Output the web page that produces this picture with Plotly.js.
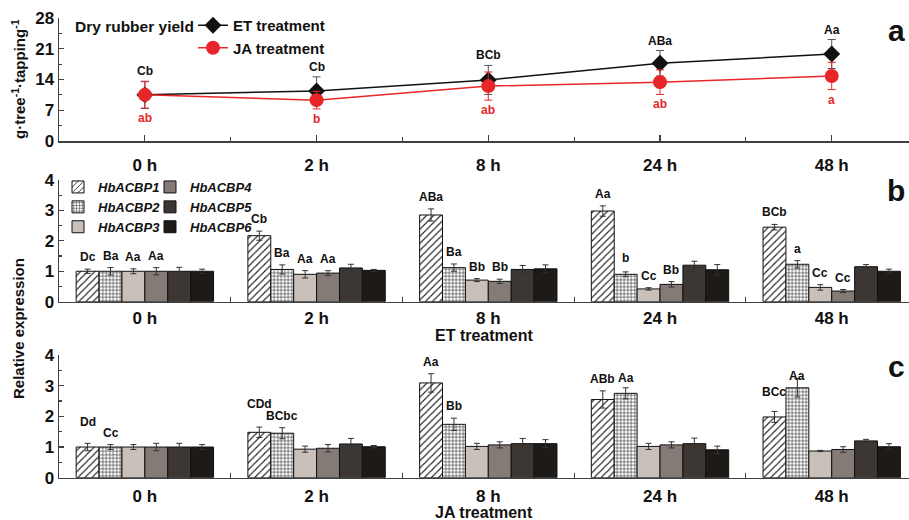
<!DOCTYPE html>
<html><head><meta charset="utf-8">
<script src="https://cdn.plot.ly/plotly-3.0.1.min.js"></script>
<style>html,body{margin:0;padding:0;background:#fff}#chart{width:909px;height:520px}</style>
</head><body><div id="chart"></div>
<script>
// ---------- data ----------
const timeLabels = ['0 h', '2 h', '8 h', '24 h', '48 h'];
const timeIdx = [0, 1, 2, 3, 4];

// Panel a: dry rubber yield (g·tree-1·tapping-1)
const etYield = [10.5, 11.4, 13.9, 17.7, 19.8];
const etYieldErr = [3.1, 3.2, 3.3, 2.9, 3.3];
const etYieldLabels = ['Cb', 'Cb', 'BCb', 'ABa', 'Aa'];
const jaYield = [10.5, 9.3, 12.5, 13.4, 14.8];
const jaYieldErr = [3.0, 2.0, 3.2, 2.8, 3.1];
const jaYieldLabels = ['ab', 'b', 'ab', 'ab', 'a'];

// Panels b/c: relative expression per gene (rows) across times (columns)
const genes = ['HbACBP1', 'HbACBP2', 'HbACBP3', 'HbACBP4', 'HbACBP5', 'HbACBP6'];
const etExpr = [
  [1.0, 2.17, 2.85, 2.98, 2.45],
  [1.0, 1.06, 1.12, 0.90, 1.23],
  [1.0, 0.90, 0.71, 0.42, 0.47],
  [1.0, 0.94, 0.67, 0.57, 0.35],
  [1.0, 1.11, 1.06, 1.20, 1.15],
  [1.0, 1.03, 1.08, 1.05, 1.00]
];
const etErr = [
  [0.07, 0.15, 0.20, 0.17, 0.09],
  [0.12, 0.15, 0.12, 0.08, 0.12],
  [0.08, 0.12, 0.05, 0.04, 0.09],
  [0.12, 0.08, 0.07, 0.09, 0.05],
  [0.13, 0.12, 0.13, 0.13, 0.07],
  [0.07, 0.03, 0.13, 0.17, 0.07]
];
const etLabels = [
  ['Dc', 'Cb', 'ABa', 'Aa', 'BCb'],
  ['Ba', 'Ba', 'Ba', 'b', 'a'],
  ['Aa', 'Aa', 'Bb', 'Cc', 'Cc'],
  ['Aa', 'Aa', 'Bb', 'Bb', 'Cc'],
  ['', '', '', '', ''],
  ['', '', '', '', '']
];
const jaExpr = [
  [1.0, 1.48, 3.09, 2.55, 1.98],
  [1.0, 1.45, 1.74, 2.75, 2.93],
  [1.0, 0.93, 1.02, 1.02, 0.87],
  [1.0, 0.96, 1.07, 1.07, 0.92],
  [1.0, 1.10, 1.11, 1.11, 1.20],
  [1.0, 1.01, 1.11, 0.91, 1.01]
];
const jaErr = [
  [0.12, 0.17, 0.30, 0.28, 0.18],
  [0.08, 0.18, 0.20, 0.18, 0.30],
  [0.08, 0.10, 0.10, 0.10, 0.02],
  [0.12, 0.12, 0.10, 0.10, 0.09],
  [0.12, 0.18, 0.17, 0.18, 0.05],
  [0.08, 0.04, 0.13, 0.12, 0.10]
];
const jaLabels = [
  ['Dd', 'CDd', 'Aa', 'ABb', 'BCc'],
  ['Cc', 'BCbc', 'Bb', 'Aa', 'Aa'],
  ['', '', '', '', ''],
  ['', '', '', '', ''],
  ['', '', '', '', ''],
  ['', '', '', '', '']
];

// ---------- styling ----------
const FONT = 'Arial, "Liberation Sans", sans-serif';
const RED = '#e8262a';
const AXC = '#404040';
const geneStyles = [
  {color: 'white', pattern: {shape: '/', fgcolor: '#222', bgcolor: 'white', size: 5, solidity: 0.22}},
  {color: 'white', pattern: {shape: '+', fgcolor: '#222', bgcolor: 'white', size: 3.5, solidity: 0.3}},
  {color: '#c9c0ba'},
  {color: '#857b76'},
  {color: '#3d3734'},
  {color: '#1d1a18'}
];
// extra vertical nudges (px) for a few significance letters, keyed panel-gene-time
const labelNudge = {'c-0-0': 9, 'c-0-1': 11, 'c-0-4': 7, 'c-1-4': -9, 'c-1-3': -2, 'b-1-3': 2};

const traces = [];
traces.push({
  type: 'scatter', mode: 'lines+markers', name: 'ET treatment',
  x: timeIdx, y: etYield, xaxis: 'x', yaxis: 'y', legend: 'legend',
  line: {color: '#111', width: 1.5},
  marker: {symbol: 'diamond', size: 13, color: '#111'},
  error_y: {type: 'data', array: etYieldErr, color: '#555', thickness: 1, width: 4}
});
traces.push({
  type: 'scatter', mode: 'lines+markers', name: 'JA treatment',
  x: timeIdx, y: jaYield, xaxis: 'x', yaxis: 'y', legend: 'legend',
  line: {color: RED, width: 1.5},
  marker: {symbol: 'circle', size: 14, color: RED},
  error_y: {type: 'data', array: jaYieldErr, color: RED, thickness: 1, width: 4}
});

function addBars(expr, err, xa, ya, showLegend) {
  genes.forEach((g, i) => {
    const m = Object.assign({line: {color: '#111', width: 1}}, geneStyles[i]);
    traces.push({
      type: 'bar', name: g, x: timeIdx, y: expr[i], xaxis: xa, yaxis: ya,
      marker: m, showlegend: showLegend, legend: i < 3 ? 'legend2' : 'legend3',
      legendgroup: g,
      error_y: {type: 'data', array: err[i], color: '#333', thickness: 1, width: 3}
    });
  });
}
addBars(etExpr, etErr, 'x2', 'y2', true);
addBars(jaExpr, jaErr, 'x3', 'y3', false);

// ---------- annotations ----------
const ann = [];
const lblFont = {family: FONT, size: 12, weight: 'bold', color: '#111'};
timeIdx.forEach((t, j) => {
  ann.push({xref: 'x', yref: 'y', x: t, y: etYield[j] + etYieldErr[j], text: etYieldLabels[j],
    showarrow: false, yanchor: 'bottom', yshift: 1, font: lblFont});
  ann.push({xref: 'x', yref: 'y', x: t, y: jaYield[j] - jaYieldErr[j], text: jaYieldLabels[j],
    showarrow: false, yanchor: 'top', yshift: -1, font: Object.assign({}, lblFont, {color: RED})});
});
const groupW = 0.8, nG = genes.length;
function addBarLabels(expr, err, labels, xr, yr, key) {
  genes.forEach((g, i) => {
    const off = -groupW / 2 + groupW / nG * (i + 0.5);
    timeIdx.forEach((t, j) => {
      if (!labels[i][j]) return;
      const nudge = labelNudge[key + '-' + i + '-' + j] || 0;
      ann.push({xref: xr, yref: yr, x: t + off, y: expr[i][j] + err[i][j], text: labels[i][j],
        showarrow: false, yanchor: 'bottom', yshift: 3 + nudge, font: lblFont});
    });
  });
}
addBarLabels(etExpr, etErr, etLabels, 'x2', 'y2', 'b');
addBarLabels(jaExpr, jaErr, jaLabels, 'x3', 'y3', 'c');

const W = 909, H = 520;
const px = v => v / W, py = v => 1 - v / H;
const titleFont = {family: FONT, size: 15, weight: 'bold', color: '#111'};
ann.push({xref: 'paper', yref: 'paper', x: px(73), y: py(26), xanchor: 'left', yanchor: 'middle',
  text: 'Dry rubber yield', showarrow: false, font: {family: FONT, size: 15.5, weight: 'bold', color: '#111'}});
ann.push({xref: 'paper', yref: 'paper', x: px(18), y: py(79), xanchor: 'center', yanchor: 'middle', textangle: -90,
  text: 'g·tree<sup>-1</sup>·tapping<sup>-1</sup>', showarrow: false, font: titleFont});
ann.push({xref: 'paper', yref: 'paper', x: px(18), y: py(329), xanchor: 'center', yanchor: 'middle', textangle: -90,
  text: 'Relative expression', showarrow: false, font: titleFont});
ann.push({xref: 'paper', yref: 'paper', x: px(484), y: py(335), xanchor: 'center', yanchor: 'middle',
  text: 'ET treatment', showarrow: false, font: {family: FONT, size: 16, weight: 'bold', color: '#111'}});
ann.push({xref: 'paper', yref: 'paper', x: px(484), y: py(512), xanchor: 'center', yanchor: 'middle',
  text: 'JA treatment', showarrow: false, font: {family: FONT, size: 16, weight: 'bold', color: '#111'}});
[['a', 30], ['b', 190], ['c', 366]].forEach(([l, yy]) => {
  ann.push({xref: 'paper', yref: 'paper', x: px(896), y: py(yy), xanchor: 'center', yanchor: 'middle',
    text: l, showarrow: false, font: {family: FONT, size: 30, weight: 'bold', color: '#111'}});
});

// ---------- axes ----------
const tickFont = {family: FONT, size: 17, weight: 'bold', color: '#111'};
const xBase = {
  range: [-0.5, 4.45], domain: [px(59), 1], showgrid: false, zeroline: false,
  showline: true, linecolor: AXC, linewidth: 1.5, tickmode: 'array', tickvals: timeIdx, ticktext: timeLabels,
  tickfont: tickFont, fixedrange: true
};
const yBase = {
  showgrid: false, zeroline: false, showline: true, linecolor: AXC, linewidth: 1.5,
  ticks: 'inside', ticklen: 5, tickcolor: AXC, tickwidth: 1.2, tickfont: tickFont, fixedrange: true
};
const legendBarFont = {family: FONT, size: 13, weight: 'bold', style: 'italic', color: '#111'};
const layout = {
  width: W, height: H, margin: {l: 0, r: 0, t: 0, b: 0},
  paper_bgcolor: 'white', plot_bgcolor: 'white',
  barmode: 'group', bargap: 0.2, bargroupgap: 0,
  font: {family: FONT, color: '#111'},
  xaxis: Object.assign({}, xBase, {anchor: 'y', ticks: 'inside', ticklen: 6, tickcolor: AXC, tickwidth: 1.2,
    ticklabelstandoff: 8,
    minor: {tickvals: [0.5, 1.5, 2.5, 3.5], ticks: 'inside', ticklen: 4, tickcolor: AXC, tickwidth: 1.2}}),
  yaxis: Object.assign({}, yBase, {anchor: 'x', domain: [py(141), py(18)], range: [0, 28],
    tickvals: [0, 7, 14, 21, 28], minor: {dtick: 3.5, ticks: 'inside', ticklen: 3, tickcolor: AXC}}),
  xaxis2: Object.assign({}, xBase, {anchor: 'y2', ticks: '', ticklabelstandoff: 0,
    minor: {tickvals: [0.5, 1.5, 2.5, 3.5], ticks: 'inside', ticklen: 5, tickcolor: AXC, tickwidth: 1.2}}),
  yaxis2: Object.assign({}, yBase, {anchor: 'x2', domain: [py(301.7), py(180)], range: [0, 4],
    tickvals: [0, 1, 2, 3, 4], minor: {dtick: 0.5, ticks: 'inside', ticklen: 3, tickcolor: AXC}}),
  xaxis3: Object.assign({}, xBase, {anchor: 'y3', ticks: '', ticklabelstandoff: 2,
    minor: {tickvals: [0.5, 1.5, 2.5, 3.5], ticks: 'inside', ticklen: 5, tickcolor: AXC, tickwidth: 1.2}}),
  yaxis3: Object.assign({}, yBase, {anchor: 'x3', domain: [py(477.7), py(355)], range: [0, 4],
    tickvals: [0, 1, 2, 3, 4], minor: {dtick: 0.5, ticks: 'inside', ticklen: 3, tickcolor: AXC}}),
  legend: {x: px(193), y: py(9), xanchor: 'left', yanchor: 'top', bgcolor: 'rgba(0,0,0,0)',
    font: {family: FONT, size: 15, weight: 'bold', color: '#111'}, tracegroupgap: 0, itemwidth: 30},
  legend2: {x: px(58), y: py(172), xanchor: 'left', yanchor: 'top', bgcolor: 'rgba(0,0,0,0)',
    font: legendBarFont, tracegroupgap: 0, itemwidth: 30},
  legend3: {x: px(150), y: py(172), xanchor: 'left', yanchor: 'top', bgcolor: 'rgba(0,0,0,0)',
    font: legendBarFont, tracegroupgap: 0, itemwidth: 30},
  annotations: ann,
  showlegend: true
};
Plotly.newPlot('chart', traces, layout, {staticPlot: true, displayModeBar: false});
</script>
</body></html>
